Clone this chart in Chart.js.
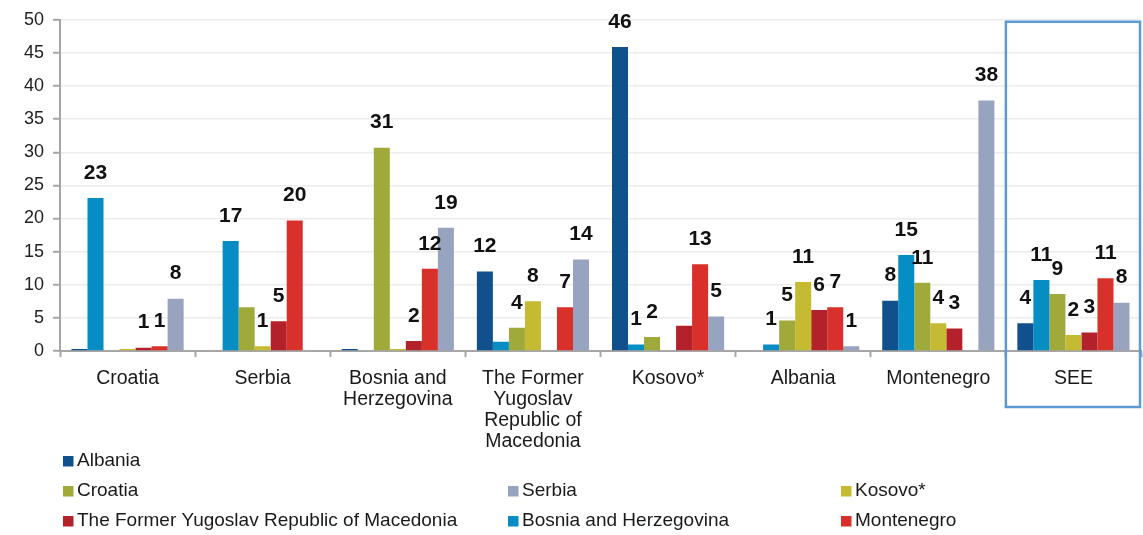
<!DOCTYPE html>
<html>
<head>
<meta charset="utf-8">
<script src="https://cdn.jsdelivr.net/npm/chart.js@4.4.1/dist/chart.umd.min.js"></script>
<style>
  body { margin: 0; background: #fff; }
  canvas { display: block; }
</style>
</head>
<body>
<canvas id="bar-chart" width="1143" height="535"></canvas>
<script>
const categories = [
  ['Croatia'], ['Serbia'], ['Bosnia and', 'Herzegovina'],
  ['The Former', 'Yugoslav', 'Republic of', 'Macedonia'],
  ['Kosovo*'], ['Albania'], ['Montenegro'], ['SEE']
];

const albania = [0.3, 0, 0.3, 12.0, 45.9, 0, 7.6, 4.2];
const albaniaLabels = [null, null, null, 12, 46, null, 8, 4];

const bosnia = [23.1, 16.6, 0, 1.4, 1.0, 1.0, 14.5, 10.7];
const bosniaLabels = [23, 17, null, null, 1, 1, 15, 11];

const croatia = [0, 6.6, 30.7, 3.5, 2.1, 4.6, 10.3, 8.6];
const croatiaLabels = [null, null, 31, 4, 2, 5, 11, 9];

const kosovo = [0.3, 0.7, 0.3, 7.5, 0, 10.4, 4.2, 2.4];
const kosovoLabels = [null, 1, null, 8, null, 11, 4, 2];

const macedonia = [0.5, 4.5, 1.5, 0, 3.8, 6.2, 3.4, 2.8];
const macedoniaLabels = [1, 5, 2, null, null, 6, 3, 3];

const montenegro = [0.7, 19.7, 12.4, 6.6, 13.1, 6.6, 0, 11.0];
const montenegroLabels = [1, 20, 12, 7, 13, 7, null, 11];

const serbia = [7.9, 0, 18.6, 13.8, 5.2, 0.7, 37.8, 7.3];
const serbiaLabels = [8, null, 19, 14, 5, 1, 38, 8];

const yTicks = [0, 5, 10, 15, 20, 25, 30, 35, 40, 45, 50];

const FONT = '"Liberation Sans", Arial, sans-serif';

const datasets = [
  { label: 'Albania', data: albania, shownLabels: albaniaLabels, backgroundColor: '#10508c' },
  { label: 'Bosnia and Herzegovina', data: bosnia, shownLabels: bosniaLabels, backgroundColor: '#068dc4' },
  { label: 'Croatia', data: croatia, shownLabels: croatiaLabels, backgroundColor: '#a0aa3b' },
  { label: 'Kosovo*', data: kosovo, shownLabels: kosovoLabels, backgroundColor: '#c5bb32' },
  { label: 'The Former Yugoslav Republic of Macedonia', data: macedonia, shownLabels: macedoniaLabels, backgroundColor: '#b3212a' },
  { label: 'Montenegro', data: montenegro, shownLabels: montenegroLabels, backgroundColor: '#d8302a' },
  { label: 'Serbia', data: serbia, shownLabels: serbiaLabels, backgroundColor: '#98a3bf' }
];

// legend rows as laid out in the original
const legendRows = [
  ['Albania'],
  ['Croatia', 'Serbia', 'Kosovo*'],
  ['The Former Yugoslav Republic of Macedonia', 'Bosnia and Herzegovina', 'Montenegro']
];

const valueLabels = {
  id: 'valueLabels',
  afterDatasetsDraw(chart) {
    const ctx = chart.ctx;
    ctx.save();
    ctx.font = 'bold 21px ' + FONT;
    ctx.fillStyle = '#111';
    ctx.textAlign = 'center';
    ctx.textBaseline = 'middle';
    chart.data.datasets.forEach((ds, i) => {
      chart.getDatasetMeta(i).data.forEach((bar, j) => {
        const t = ds.shownLabels[j];
        if (t != null) ctx.fillText(String(t), bar.x, bar.y - 25);
      });
    });
    ctx.restore();
  }
};

const extras = {
  id: 'extras',
  afterDraw(chart) {
    const ctx = chart.ctx;
    const area = chart.chartArea;
    const cw = (area.right - area.left) / categories.length;

    // box round the SEE group
    ctx.save();
    ctx.strokeStyle = '#5b9bd5';
    ctx.lineWidth = 2.5;
    const bx = area.left + cw * 7;
    ctx.strokeRect(bx, area.top + 2, area.right - bx - 1, 407 - area.top - 2);

    // legend
    const colX = [63, 508, 841];
    const rowY = [461, 491, 521];
    ctx.font = '19px ' + FONT;
    ctx.textBaseline = 'middle';
    ctx.textAlign = 'left';
    legendRows.forEach((row, r) => {
      row.forEach((name, c) => {
        const ds = chart.data.datasets.find(d => d.label === name);
        ctx.fillStyle = ds.backgroundColor;
        ctx.fillRect(colX[c], rowY[r] - 5, 10.5, 10.5);
        ctx.fillStyle = '#1a1a1a';
        ctx.fillText(name, colX[c] + 14, rowY[r]);
      });
    });
    ctx.restore();
  }
};

const config = {
  type: 'bar',
  data: { labels: categories, datasets: datasets },
  options: {
    responsive: false,
    animation: false,
    layout: { padding: { top: 18, right: 2, left: 0, bottom: 0 } },
    datasets: {
      bar: { categoryPercentage: 0.83, barPercentage: 1.0, borderWidth: 0 }
    },
    plugins: {
      legend: { display: false },
      tooltip: { enabled: false }
    },
    scales: {
      x: {
        afterFit: s => { s.height = 184; },
        grid: {
          offset: true,
          drawOnChartArea: false,
          tickLength: 6,
          tickColor: '#a6a6a6',
          tickWidth: 2
        },
        border: { color: '#a6a6a6', width: 2 },
        ticks: {
          color: '#1a1a1a',
          padding: 11,
          maxRotation: 0,
          autoSkip: false,
          font: { family: FONT, size: 19.5, lineHeight: 1.08 }
        }
      },
      y: {
        min: 0,
        max: 50,
        afterFit: s => { s.width = 60; },
        afterBuildTicks: s => { s.ticks = yTicks.map(v => ({ value: v })); },
        grid: {
          color: '#ececec',
          lineWidth: 1.5,
          tickLength: 7,
          tickColor: '#a6a6a6',
          tickWidth: 2
        },
        border: { color: '#a6a6a6', width: 2 },
        ticks: {
          color: '#222',
          padding: 9,
          font: { family: FONT, size: 18 }
        }
      }
    }
  },
  plugins: [valueLabels, extras]
};

const myChart = new Chart(document.getElementById('bar-chart'), config);
</script>
</body>
</html>
